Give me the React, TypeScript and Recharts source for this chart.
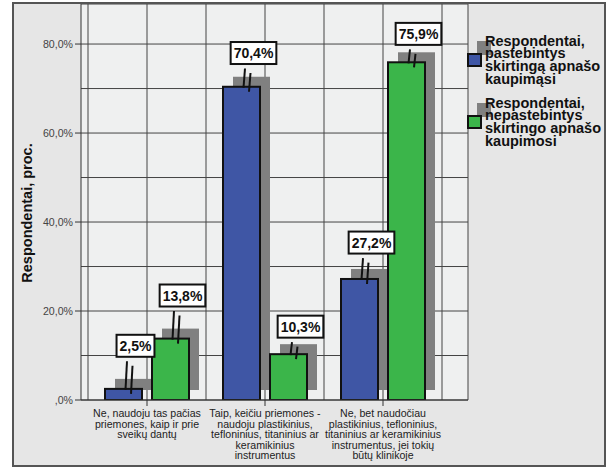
import React from 'react';
import { BarChart, Bar, XAxis, YAxis, CartesianGrid, LabelList } from 'recharts';

// kategorijos (eilučių laužymai kaip originale)
const categories = [
  'Ne, naudoju tas pačias\npriemones, kaip ir prie\nsveikų dantų',
  'Taip, keičiu priemones -\nnaudoju plastikinius,\ntefloninius, titaninius ar\nkeramikinius\ninstrumentus',
  'Ne, bet naudočiau\nplastikinius, tefloninius,\ntitaninius ar keramikinius\ninstrumentus, jei tokių\nbūtų klinikoje',
];
const noticed = [2.5, 70.4, 27.2];
const notNoticed = [13.8, 10.3, 75.9];
const noticedErr = [6.2, 4.1, 4.7];
const notNoticedErr = [6.2, 2.7, 2.9];
const seriesNames = [
  'Respondentai,\npastebintys\nskirtingą apnašo\nkaupimąsi',
  'Respondentai,\nnepastebintys\nskirtingo apnašo\nkaupimosi',
];
const yTicks = [0, 10, 20, 30, 40, 50, 60, 70, 80];
const yLabel = 'Respondentai, proc.';

const BLUE = '#3f56a5';
const GREEN = '#3bb54a';
const SHADOW = '#808080';
const PAD_L = 7;
const PAD_R = 26;
const FONT = '"Liberation Sans", Arial, sans-serif';

const chartData = categories.map((cat, i) => ({
  cat,
  noticed: noticed[i],
  notNoticed: notNoticed[i],
  noticedErr: noticedErr[i],
  notNoticedErr: notNoticedErr[i],
}));

const fmt = (v: number) => (v === 0 ? ',0%' : v.toFixed(1).replace('.', ',') + '%');

// apytikslis bold 14px pločio skaičiavimas
const textW = (s: string) =>
  s.split('').reduce((w, c) => w + (c === ',' ? 3.9 : c === '%' ? 12.45 : 7.78), 0);

function ShadowBar(props: any) {
  const { x, y, width, height, fill, v, err } = props;
  if (!height || !v) return null;
  const unit = height / v;
  const errTop = y - err * unit;
  const cx = x + width / 2;
  return (
    <g>
      <rect x={x + 10} y={y - 10} width={width} height={height} fill={SHADOW} />
      <rect x={x} y={y} width={width} height={height} fill={fill} stroke="#111" strokeWidth={2} />
      <line x1={cx + 3.5} y1={errTop} x2={cx + 2} y2={y + 1} stroke="#111" strokeWidth={2} />
      <line x1={cx + 9} y1={errTop + 4.5} x2={cx + 7.5} y2={y + 5} stroke="#111" strokeWidth={2} />
    </g>
  );
}

const makeLabel = (errs: number[]) => (p: any) => {
  const { x, y, width, height, value, index } = p;
  const v = Number(value);
  if (!v) return null;
  const unit = height / v;
  const errTop = y - errs[index] * unit;
  const txt = fmt(v);
  const tw = textW(txt) + 6;
  const cx = x + width / 2 + 12;
  const bottom = errTop - 4.5;
  return (
    <g>
      <rect x={cx - tw / 2} y={bottom - 22} width={tw} height={22} fill="#fff" stroke="#111" strokeWidth={2} />
      <text x={cx} y={bottom - 6} textAnchor="middle" fontFamily={FONT} fontWeight="bold" fontSize={14} fill="#111">
        {txt}
      </text>
    </g>
  );
};

const YTick = (p: any) => {
  const { x, y, payload } = p;
  if (payload.value % 20 !== 0) return null;
  return (
    <g>
      <line x1={x + 2} y1={y} x2={x + 8} y2={y} stroke="#333" />
      <text x={x} y={y} dy="0.35em" textAnchor="end" fontFamily={FONT} fontSize={10.6} fill="#444">
        {fmt(payload.value)}
      </text>
    </g>
  );
};

const XTick = (p: any) => {
  const { x, y, payload } = p;
  const lines = String(payload.value).split('\n');
  return (
    <text x={x} y={y} textAnchor="middle" fontFamily={FONT} fontSize={10.6} fill="#222">
      {lines.map((l, i) => (
        <tspan key={i} x={x} dy={i === 0 ? 9 : 10.6}>
          {l}
        </tspan>
      ))}
    </text>
  );
};

const YLabel = (p: any) => {
  const vb = p.viewBox || { x: 13, y: 4, width: 68, height: 396 };
  const cx = 27;
  const cy = vb.y + vb.height / 2 + 11;
  return (
    <text
      x={cx}
      y={cy}
      transform={`rotate(-90 ${cx} ${cy})`}
      textAnchor="middle"
      dy="0.35em"
      fontFamily={FONT}
      fontWeight="bold"
      fontSize={14.5}
      fill="#111"
    >
      {yLabel}
    </text>
  );
};

function LegendBox() {
  const colors = [BLUE, GREEN];
  return (
    <>
      {seriesNames.map((name, i) => {
        const top = 34.6 + i * 62;
        return (
          <React.Fragment key={name}>
            <div style={{ position: 'absolute', left: 477, top: top + 6, width: 14, height: 14, background: SHADOW }} />
            <div
              style={{
                position: 'absolute',
                left: 467,
                top: top + 18.4,
                width: 15,
                height: 14,
                background: colors[i],
                border: '2px solid #111',
                boxSizing: 'border-box',
              }}
            />
            <div
              style={{
                position: 'absolute',
                left: 485,
                top,
                fontFamily: FONT,
                fontWeight: 'bold',
                fontSize: 14.5,
                lineHeight: '12.7px',
                color: '#111',
                whiteSpace: 'pre',
              }}
            >
              {name}
            </div>
          </React.Fragment>
        );
      })}
    </>
  );
}

export default function App() {
  return (
    <div style={{ position: 'absolute', left: 0, top: 0, width: 607, height: 468, background: '#fff', overflow: 'hidden' }}>
      <div style={{ position: 'absolute', left: 13, top: 3, width: 592, height: 463, background: '#e6e6e6' }} />
      <div style={{ position: 'absolute', left: 0, top: 0 }}>
        <BarChart
          width={607}
          height={468}
          data={chartData}
          margin={{ top: 4, right: 139, bottom: 0, left: 13 }}
          barSize={37}
          barGap={10}
        >
          <CartesianGrid
            fill="#eff0f0"
            stroke="#444"
            verticalCoordinatesGenerator={({ offset }: any) => {
              const start = offset.left + PAD_L;
              const band = (offset.width - PAD_L - PAD_R) / categories.length;
              const pts = [];
              for (let k = 0; k <= categories.length * 2; k++) pts.push(start + (k * band) / 2);
              pts.push(offset.left + offset.width);
              return pts;
            }}
          />
          <XAxis
            dataKey="cat"
            interval={0}
            height={68}
            padding={{ left: PAD_L, right: PAD_R }}
            axisLine={{ stroke: '#333' }}
            tickLine={{ stroke: '#333' }}
            tickSize={6}
            tickMargin={2}
            tick={<XTick />}
          />
          <YAxis
            width={68}
            domain={[0, 89]}
            ticks={yTicks}
            interval={0}
            allowDataOverflow
            axisLine={{ stroke: '#333' }}
            tickLine={false}
            tickSize={6}
            tickMargin={2}
            tick={<YTick />}
            label={{ content: <YLabel /> }}
          />
          <Bar
            dataKey="noticed"
            name={seriesNames[0]}
            fill={BLUE}
            isAnimationActive={false}
            shape={(p: any) => <ShadowBar {...p} v={p.payload.noticed} err={p.payload.noticedErr} />}
          >
            <LabelList dataKey="noticed" content={makeLabel(noticedErr)} />
          </Bar>
          <Bar
            dataKey="notNoticed"
            name={seriesNames[1]}
            fill={GREEN}
            isAnimationActive={false}
            shape={(p: any) => <ShadowBar {...p} v={p.payload.notNoticed} err={p.payload.notNoticedErr} />}
          >
            <LabelList dataKey="notNoticed" content={makeLabel(notNoticedErr)} />
          </Bar>
        </BarChart>
      </div>
      <LegendBox />
      <div
        style={{
          position: 'absolute',
          left: 12,
          top: 2,
          width: 594,
          height: 465,
          border: '2px solid #555',
          boxSizing: 'border-box',
          pointerEvents: 'none',
        }}
      />
    </div>
  );
}
